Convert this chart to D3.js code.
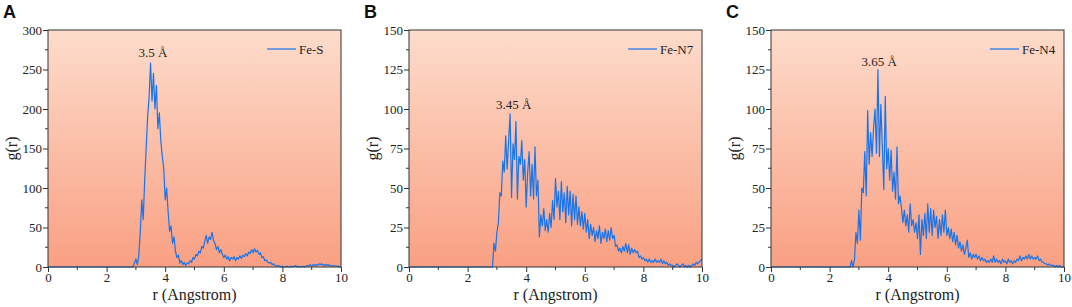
<!DOCTYPE html>
<html>
	<head>
		<meta charset="utf-8" />
		<title>g(r)</title>
		<script src="https://cdn.jsdelivr.net/npm/d3@7"></script>
		<style>
			body { margin: 0; background: #fff; }
		</style>
	</head>
	<body>
		<svg width="1072" height="307"></svg>
		<script>
		// data: g(r) sampled every 0.05 Angstrom starting at rStart (zero before it)
		var step = 0.05;

		var feS_start = 2.9;
		var feS_g = [0,5,10,3,15,45,85,60,110,150,190,215,258,210,245,200,230,175,195,160,
			140,125,85,100,70,45,52,30,38,20,12,15,5,8,3,6,2,5,4,8,
			6,12,10,16,14,20,18,26,24,32,40,30,38,35,44,33,30,22,26,18,
			22,16,12,15,10,13,8,12,10,13,8,12,10,14,11,15,13,17,14,19,
			17,22,18,23,19,21,16,18,12,13,8,9,6,5,6,3,4,2,1,2,
			1,0,1,0,0,1,0,0,1,0,1,2,0,1,0,0,1,0,1,2,
			1,3,1,3,2,3,2,4,3,4,2,3,2,3,2,2,1,2,1,1,
			1,0,0];

		var feN7_start = 2.8;
		var feN7_g = [0,0,15,10,22,28,47,45,67,60,83,62,80,97,44,78,68,92,43,70,
			65,80,55,68,38,60,73,45,65,43,76,45,55,19,33,26,37,23,30,22,
			34,25,42,30,56,38,48,30,54,35,47,28,51,33,48,26,46,30,45,27,
			38,26,35,24,34,22,30,18,27,20,25,16,23,18,26,15,22,18,24,16,
			23,17,25,18,20,13,14,10,12,9,13,10,15,9,14,8,12,9,11,9,
			10,6,7,5,6,4,5,3,5,3,4,3,5,3,4,3,5,2,4,2,
			3,1,2,1,1,0,1,2,1,0,1,2,0,1,0,1,0,1,2,1,
			3,2,3,4,5];

		var feN4_start = 2.7;
		var feN4_g = [0,4,0,5,22,15,36,17,50,47,73,45,99,65,85,70,88,100,72,125,
			70,103,76,49,108,62,75,55,74,48,60,43,76,40,45,38,28,36,26,33,
			22,40,26,30,22,28,18,33,8,30,20,34,18,40,22,37,20,36,25,32,
			18,30,20,33,22,36,20,25,18,24,16,22,14,20,12,16,10,14,8,12,
			17,6,9,5,8,6,8,5,7,4,6,4,5,3,4,3,5,3,7,3,
			5,3,4,2,5,3,4,2,5,3,4,2,4,3,5,4,7,4,6,5,
			7,5,8,5,7,5,6,5,7,4,5,3,3,2,2,1,2,1,1,1,
			0,1,0,1,0,0,0];

		var letters = ["A", "B", "C"];
		var names = ["Fe-S", "Fe-N7", "Fe-N4"];
		var yMax = [300, 150, 150];
		var yStep = [50, 25, 25];
		var peakLabels = ["3.5 Å", "3.45 Å", "3.65 Å"];
		var peakPos = [[3.58, 266], [3.57, 100], [3.69, 127]];
		var starts = [feS_start, feN7_start, feN4_start];
		var series = [feS_g, feN7_g, feN4_g];
		var xTicks = [0, 2, 4, 6, 8, 10];

		// layout of each panel (plot area left edge)
		var lefts = [48, 409, 771];
		var plotW = 293, plotTop = 30, plotBottom = 267;

		var svg = d3.select("svg");

		var defs = svg.append("defs");
		var grad = defs.append("linearGradient")
			.attr("id", "bg").attr("x1", 0).attr("y1", 0).attr("x2", 0).attr("y2", 1);
		grad.append("stop").attr("offset", "0%").attr("stop-color", "#fddccb");
		grad.append("stop").attr("offset", "100%").attr("stop-color", "#f9a083");

		function toPoints(start, vals) {
			var pts = [[0, 0]];
			vals.forEach(function(v, i) {
				pts.push([+(start + i * step).toFixed(2), v]);
			});
			return pts;
		}

		var serif = "'Liberation Serif', 'Times New Roman', serif";

		letters.forEach(function(letter, k) {
			var left = lefts[k];
			var x = d3.scaleLinear().domain([0, 10]).range([left, left + plotW]);
			var y = d3.scaleLinear().domain([0, yMax[k]]).range([plotBottom, plotTop]);
			var g = svg.append("g");

			g.append("rect")
				.attr("x", left).attr("y", plotTop)
				.attr("width", plotW).attr("height", plotBottom - plotTop)
				.attr("fill", "url(#bg)");

			// minor ticks
			var xMinor = d3.range(1, 10, 2);
			g.selectAll(".xminor").data(xMinor).enter().append("line")
				.attr("x1", function(d){ return x(d); }).attr("x2", function(d){ return x(d); })
				.attr("y1", plotBottom).attr("y2", plotBottom + 3)
				.attr("stroke", "#333");
			var yMinor = d3.range(yStep[k] / 2, yMax[k], yStep[k]);
			g.selectAll(".yminor").data(yMinor).enter().append("line")
				.attr("y1", function(d){ return y(d); }).attr("y2", function(d){ return y(d); })
				.attr("x1", left).attr("x2", left - 3)
				.attr("stroke", "#333");

			var xAxis = g.append("g")
				.attr("transform", "translate(0," + plotBottom + ")")
				.call(d3.axisBottom(x).tickValues(xTicks).tickSizeOuter(0).tickSize(5).tickPadding(1));
			var yAxis = g.append("g")
				.attr("transform", "translate(" + left + ",0)")
				.call(d3.axisLeft(y).tickValues(d3.range(0, yMax[k] + 1, yStep[k])).tickSizeOuter(0).tickSize(5).tickPadding(1));
			[xAxis, yAxis].forEach(function(a) {
				a.attr("font-family", serif).attr("font-size", 13);
				a.select(".domain").remove();
				a.selectAll("line").attr("stroke", "#333");
				a.selectAll("text").attr("fill", "#222");
			});

			var line = d3.line()
				.x(function(d){ return x(d[0]); })
				.y(function(d){ return y(d[1]); });
			g.append("path")
				.datum(toPoints(starts[k], series[k]))
				.attr("d", line)
				.attr("fill", "none")
				.attr("stroke", "#1874ea")
				.attr("stroke-width", 1.2)
				.attr("stroke-linejoin", "round");

			// frame
			g.append("rect")
				.attr("x", left).attr("y", plotTop)
				.attr("width", plotW).attr("height", plotBottom - plotTop)
				.attr("fill", "none").attr("stroke", "#333").attr("stroke-width", 1);

			// peak annotation
			g.append("text")
				.attr("x", x(peakPos[k][0])).attr("y", y(peakPos[k][1]))
				.attr("text-anchor", "middle")
				.attr("font-family", serif)
				.attr("font-size", 13).attr("fill", "#222")
				.text(peakLabels[k]);

			// legend
			var right = left + plotW;
			g.append("line")
				.attr("x1", right - 74).attr("x2", right - 45)
				.attr("y1", plotTop + 19).attr("y2", plotTop + 19)
				.attr("stroke", "#1874ea").attr("stroke-width", 1.2);
			g.append("text")
				.attr("x", right - 42).attr("y", plotTop + 23.5)
				.attr("font-family", serif)
				.attr("font-size", 13).attr("fill", "#222")
				.text(names[k]);

			// axis titles
			g.append("text")
				.attr("x", left + plotW / 2).attr("y", 300)
				.attr("text-anchor", "middle")
				.attr("font-family", serif)
				.attr("font-size", 16).attr("fill", "#222")
				.text("r (Angstrom)");
			g.append("text")
				.attr("transform", "translate(" + (left - 31) + "," + ((plotTop + plotBottom) / 2) + ") rotate(-90)")
				.attr("text-anchor", "middle")
				.attr("font-family", serif)
				.attr("font-size", 16).attr("fill", "#222")
				.text("g(r)");

			// panel letter
			g.append("text")
				.attr("x", left - 45).attr("y", 17.5)
				.attr("font-family", "'Liberation Sans', Arial, sans-serif")
				.attr("font-weight", "bold")
				.attr("font-size", 18).attr("fill", "#111")
				.text(letter);
		});
		</script>
	</body>
</html>
